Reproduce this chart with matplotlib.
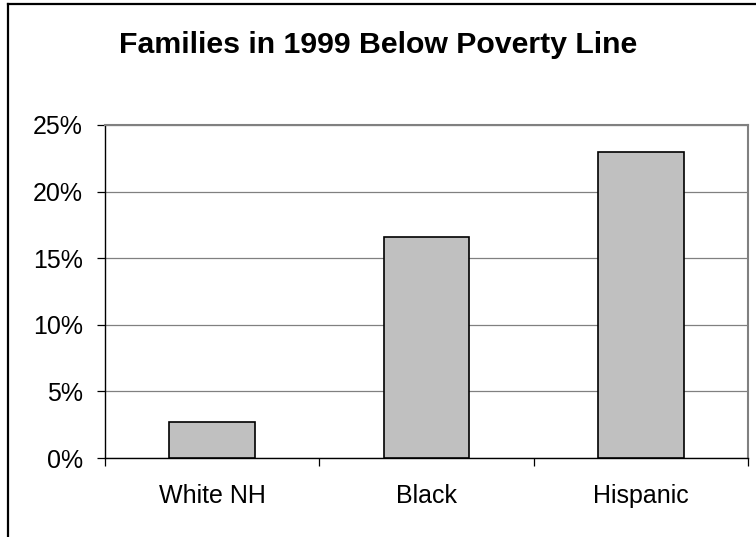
import matplotlib
matplotlib.use("Agg")
import matplotlib.pyplot as plt
from matplotlib.lines import Line2D
from matplotlib.ticker import FuncFormatter

plt.rcParams['font.family'] = ['Liberation Sans', 'DejaVu Sans']

groups = ["White NH", "Black", "Hispanic"]
pct = [2.7, 16.6, 23.0]
yticks = [0, 5, 10, 15, 20, 25]

fig = plt.figure(figsize=(7.56, 5.37), dpi=100)
ax = fig.add_axes([105/756, 1 - 458/537, 643/756, 333/537])

xs = range(len(groups))
ax.bar(xs, pct, width=0.4, color='#c0c0c0', edgecolor='black', linewidth=1.2, zorder=3)

ax.set_xlim(-0.5, len(groups) - 0.5)
ax.set_ylim(0, 25)
ax.set_yticks(yticks)
ax.yaxis.set_major_formatter(FuncFormatter(lambda v, p: f"{v:.0f}%"))
ax.grid(axis='y', color='#808080', linewidth=0.9, zorder=0)

ax.set_xticks(list(xs))
ax.set_xticklabels(groups)
ax.set_xticks([i - 0.5 for i in range(len(groups) + 1)], minor=True)
ax.tick_params(axis='x', which='major', length=0, pad=19, labelsize=18)
ax.tick_params(axis='x', which='minor', length=6, width=0.9, direction='out', color='black')
ax.tick_params(axis='y', length=6, width=0.9, direction='out', color='black', pad=10, labelsize=18)

ax.spines['left'].set_color('black')
ax.spines['bottom'].set_color('black')
ax.spines['left'].set_linewidth(1.0)
ax.spines['bottom'].set_linewidth(1.0)
ax.spines['top'].set_color('#808080')
ax.spines['right'].set_color('#808080')
ax.spines['top'].set_linewidth(1.5)
ax.spines['right'].set_linewidth(1.5)

fig.text(0.5, 1 - 45/537, "Families in 1999 Below Poverty Line",
         ha='center', va='center', fontsize=21.8, fontweight='bold')

# outer chart frame (only left and top visible in this crop)
fig.add_artist(Line2D([8/756, 8/756], [0, 1 - 4/537], color='black', linewidth=1.6, transform=fig.transFigure))
fig.add_artist(Line2D([8/756, 1], [1 - 4/537, 1 - 4/537], color='black', linewidth=1.6, transform=fig.transFigure))

fig.savefig("out.png", dpi=100)
